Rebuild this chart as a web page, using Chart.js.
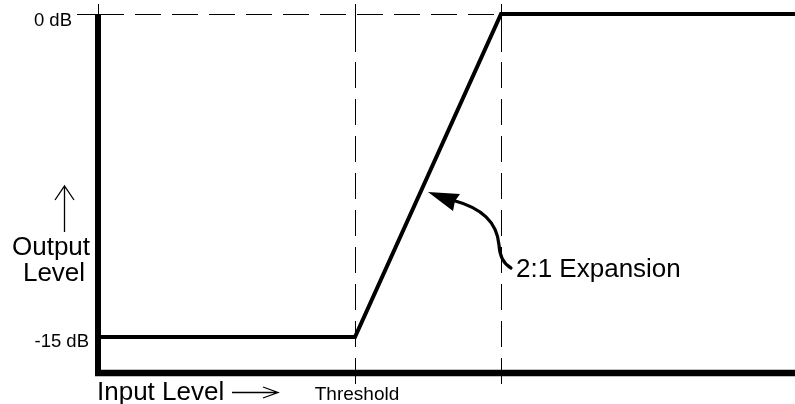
<!DOCTYPE html>
<html>
<head>
<meta charset="utf-8">
<script src="https://cdn.jsdelivr.net/npm/chart.js@4/dist/chart.umd.min.js"></script>
<style>
html,body{margin:0;padding:0;background:#fff;}
#wrap{width:795px;height:404px;}
</style>
</head>
<body>
<div id="wrap"><canvas id="c" width="795" height="404"></canvas></div>
<script>
// Input level (dB, relative to knee) and output level (dB)
const inputLevels = [-20.7, -7.5, 0, 15.1];
const outputLevels = [-15, -15, 0, 0];
// Reference marks
const yTickValues = [0, -15];
const yTickLabels = ['0 dB', '-15 dB'];
const thresholdInput = -7.5;
const kneeInput = 0;
const xAxisLabel = 'Input Level';
const xMarkerLabel = 'Threshold';
const yAxisLabel = ['Output', 'Level'];
const ratioLabel = '2:1 Expansion';

const FONT = '"Liberation Sans", Arial, sans-serif';

const decor = {
  id: 'decor',
  afterDatasetsDraw(chart) {
    const {ctx, chartArea: ca, scales: {x, y}} = chart;
    const yTop = y.getPixelForValue(yTickValues[0]);
    const yLow = y.getPixelForValue(yTickValues[1]);
    const xThr = x.getPixelForValue(thresholdInput);
    const xKnee = x.getPixelForValue(kneeInput);
    ctx.save();
    ctx.strokeStyle = '#000';
    ctx.fillStyle = '#000';

    // dashed reference lines
    ctx.lineWidth = 1;
    const hy = Math.round(yTop) + 0.5;
    ctx.beginPath();
    ctx.moveTo(77, hy); ctx.lineTo(ca.left, hy);
    ctx.stroke();
    ctx.setLineDash([26, 11]);
    ctx.beginPath();
    ctx.moveTo(ca.left, hy);
    ctx.lineTo(xKnee, hy);
    ctx.stroke();
    [xThr, xKnee].forEach(px => {
      const vx = Math.round(px) + 0.5;
      ctx.setLineDash([]);
      ctx.beginPath();
      ctx.moveTo(vx, 4); ctx.lineTo(vx, 52);
      ctx.stroke();
      ctx.setLineDash([26, 11]);
      ctx.beginPath();
      ctx.moveTo(vx, 62); ctx.lineTo(vx, 384);
      ctx.stroke();
    });
    ctx.setLineDash([]);
    // small tick above left axis
    ctx.beginPath();
    ctx.moveTo(ca.left + 0.5, 4);
    ctx.lineTo(ca.left + 0.5, yTop);
    ctx.stroke();

    // thick axes
    ctx.lineWidth = 6;
    ctx.beginPath();
    ctx.moveTo(ca.left, yTop);
    ctx.lineTo(ca.left, ca.bottom + 3);
    ctx.stroke();
    ctx.lineWidth = 6.5;
    ctx.beginPath();
    ctx.moveTo(ca.left - 3, ca.bottom);
    ctx.lineTo(795, ca.bottom);
    ctx.stroke();

    // y tick labels
    ctx.textAlign = 'right';
    ctx.textBaseline = 'alphabetic';
    ctx.font = '18.5px ' + FONT;
    ctx.fillText(yTickLabels[0], 72, yTop + 12);
    ctx.fillText(yTickLabels[1], 89, yLow + 9.5);

    // y axis label with up arrow
    ctx.textAlign = 'center';
    ctx.font = '26px ' + FONT;
    ctx.fillText(yAxisLabel[0], 51, 255);
    ctx.fillText(yAxisLabel[1], 54, 281);
    ctx.lineWidth = 1.3;
    ctx.beginPath();
    ctx.moveTo(64.5, 186); ctx.lineTo(64.5, 232);
    ctx.moveTo(55, 200); ctx.lineTo(64.5, 186); ctx.lineTo(74, 200);
    ctx.stroke();

    // x axis label with arrow
    ctx.textAlign = 'left';
    ctx.font = '26px ' + FONT;
    ctx.fillText(xAxisLabel, 97, 400);
    ctx.beginPath();
    ctx.moveTo(232, 392.5); ctx.lineTo(278, 392.5);
    ctx.moveTo(263, 387); ctx.lineTo(278, 392.5); ctx.lineTo(263, 398);
    ctx.stroke();

    // threshold label
    ctx.textAlign = 'center';
    ctx.font = '19px ' + FONT;
    ctx.fillText(xMarkerLabel, xThr + 2, 400);

    // ratio annotation
    ctx.textAlign = 'left';
    ctx.font = '26px ' + FONT;
    ctx.fillText(ratioLabel, 516, 277);
    ctx.lineWidth = 3.2;
    ctx.lineCap = 'round';
    ctx.beginPath();
    ctx.moveTo(511, 268);
    ctx.quadraticCurveTo(500, 262, 499, 245);
    ctx.bezierCurveTo(497, 222, 482, 208, 452, 200);
    ctx.stroke();
    ctx.beginPath();
    ctx.moveTo(428, 192);
    ctx.lineTo(460, 194);
    ctx.lineTo(455, 201);
    ctx.lineTo(453, 211);
    ctx.closePath();
    ctx.fill();
    ctx.restore();
  }
};

new Chart(document.getElementById('c'), {
  type: 'scatter',
  data: {
    datasets: [{
      data: inputLevels.map((v, i) => ({x: v, y: outputLevels[i]})),
      showLine: true,
      borderColor: '#000',
      borderWidth: 4,
      pointRadius: 0,
      fill: false,
      tension: 0,
      clip: false,
      borderJoinStyle: 'miter'
    }]
  },
  options: {
    responsive: false,
    devicePixelRatio: 1,
    animation: false,
    layout: {padding: {left: 98, right: 0, top: 14, bottom: 31}},
    plugins: {legend: {display: false}, tooltip: {enabled: false}},
    scales: {
      x: {type: 'linear', display: false, min: -20.7, max: 15.1},
      y: {type: 'linear', display: false, min: -16.67, max: 0}
    }
  },
  plugins: [decor]
});
</script>
</body>
</html>
